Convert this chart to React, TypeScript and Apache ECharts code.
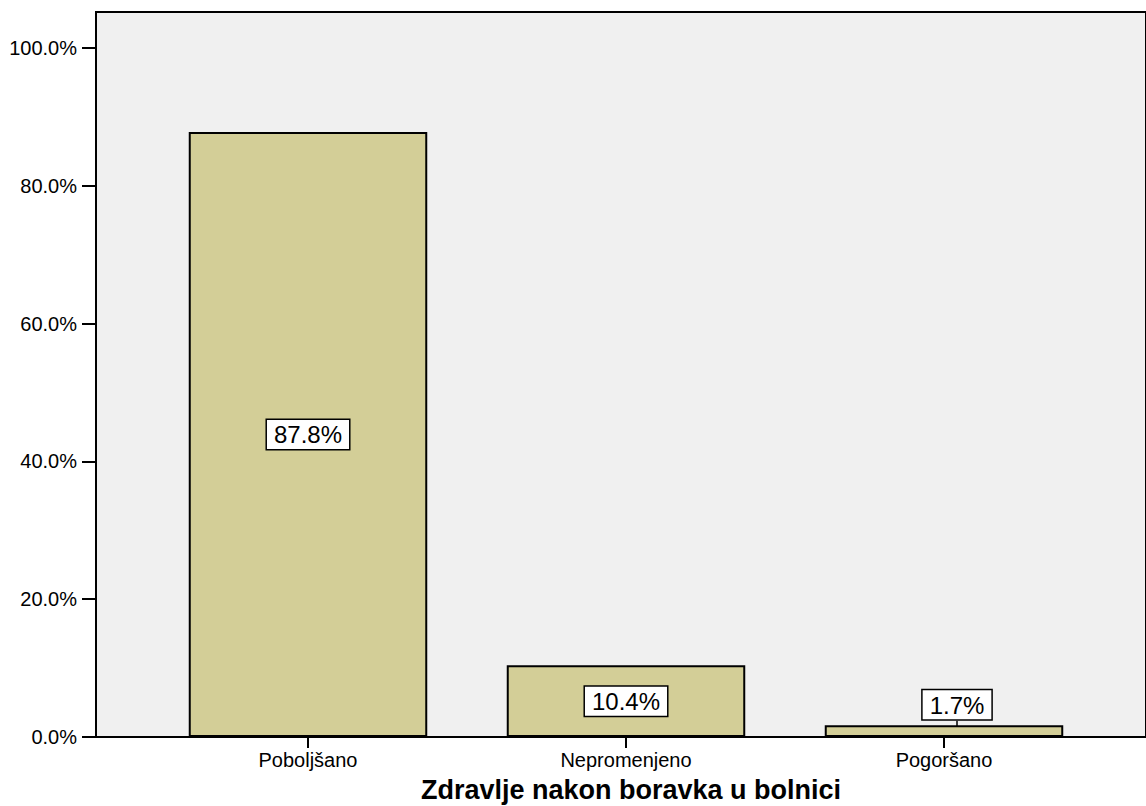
import React, { useEffect, useRef } from "react";
import * as echarts from "echarts";

const categories = ["Poboljšano", "Nepromenjeno", "Pogoršano"];
const percentValues = [87.8, 10.4, 1.7];
const yTicks = [0, 20, 40, 60, 80, 100];
const yMax = 105.2;
const axisTitle = "Zdravlje nakon boravka u bolnici";

const FONT = "'Liberation Sans', Arial, Helvetica, sans-serif";

export default function App() {
  const ref = useRef<HTMLDivElement>(null);
  useEffect(() => {
    if (!ref.current) return;
    const chart = echarts.init(ref.current, null, { renderer: "svg" });
    const option: any = {
      animation: false,
      backgroundColor: "#ffffff",
      grid: [
        {
          left: 96,
          right: -4,
          top: 12,
          bottom: 69,
          show: true,
          backgroundColor: "#f0f0f0",
          borderColor: "#000",
          borderWidth: 2,
        },
        { left: 149, right: 43, top: 12, bottom: 69 },
      ],
      xAxis: [
        {
          gridIndex: 0,
          type: "value",
          min: 0,
          max: 1,
          axisLine: { show: true, lineStyle: { color: "#000", width: 2 } },
          axisTick: { show: false },
          axisLabel: { show: false },
          splitLine: { show: false },
        },
        {
          gridIndex: 1,
          type: "category",
          data: categories,
          axisLine: { show: false },
          axisTick: {
            show: true,
            alignWithLabel: true,
            length: 11,
            lineStyle: { color: "#000", width: 2 },
          },
          axisLabel: {
            color: "#000",
            fontSize: 20,
            fontFamily: FONT,
            margin: 13,
          },
        },
      ],
      yAxis: [
        {
          gridIndex: 0,
          type: "value",
          min: 0,
          max: yMax,
          axisLine: { show: true, lineStyle: { color: "#000", width: 2 } },
          axisTick: {
            show: true,
            length: 14,
            customValues: yTicks,
            lineStyle: { color: "#000", width: 2 },
          },
          axisLabel: {
            customValues: yTicks,
            color: "#000",
            fontSize: 20,
            fontFamily: FONT,
            margin: 19,
            formatter: (v: number) => v.toFixed(1) + "%",
          },
          splitLine: { show: false },
        },
        {
          gridIndex: 1,
          type: "value",
          min: 0,
          max: yMax,
          show: false,
          splitLine: { show: false },
        },
      ],
      graphic: [
        {
          type: "text",
          x: 631,
          y: 790,
          style: {
            text: axisTitle,
            fontSize: 27,
            fontWeight: "bold",
            fontFamily: FONT,
            fill: "#000",
            align: "center",
            verticalAlign: "middle",
          },
        },
      ],
      series: [
        {
          type: "bar",
          xAxisIndex: 1,
          yAxisIndex: 1,
          barWidth: "75%",
          data: percentValues.map((v, i) =>
            i === 2
              ? { value: v, label: { position: "top", distance: 6 } }
              : { value: v }
          ),
          itemStyle: {
            color: "#d3ce97",
            borderColor: "#000",
            borderWidth: 2,
          },
          label: {
            show: true,
            position: "inside",
            formatter: (p: any) => p.value.toFixed(1) + "%",
            color: "#000",
            fontSize: 24,
            fontFamily: FONT,
            backgroundColor: "#fff",
            borderColor: "#000",
            borderWidth: 1.5,
            padding: [3, 7, 2, 7],
          },
          labelLayout: (params: any) =>
            params.dataIndex === 2 ? { dx: 13 } : {},
          labelLine: {
            show: true,
            lineStyle: { color: "#000", width: 1.5 },
          },
        },
      ],
    };
    chart.setOption(option);
    return () => chart.dispose();
  }, []);
  return (
    <div
      ref={ref}
      style={{ position: "fixed", left: 0, top: 0, width: 1146, height: 806 }}
    />
  );
}
